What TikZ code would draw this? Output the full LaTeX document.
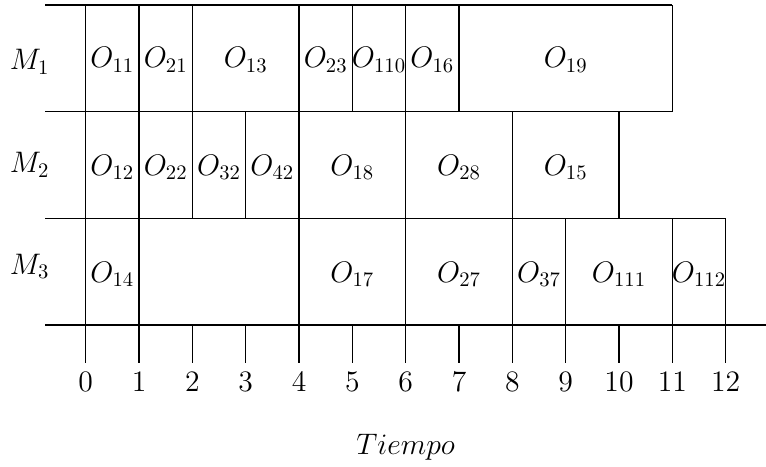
\documentclass[tikz,border=0pt]{standalone}
\begin{document}
\begin{tikzpicture}[x=1cm,y=1cm,line width=0.7pt,
  lbl/.style={font=\Large,inner sep=0pt,scale=1.1},
  grid/.style={draw=black}]
\useasboundingbox (-1.607,-2.644) rectangle (12.756,6.094);
% horizontal lines
\draw[grid] (-0.763,6) -- (11,6);
\draw[grid] (-0.763,4) -- (11,4);
\draw[grid] (-0.763,2) -- (12,2);
\draw[grid] (-0.763,0) -- (12.756,0);
% vertical separators
\foreach \t in {0,1,2,4,5,6,7,11} \draw[grid] (\t,4) -- (\t,6);
\foreach \t in {0,1,2,3,4,6,8,10} \draw[grid] (\t,2) -- (\t,4);
\foreach \t in {0,1,4,6,8,9,11,12} \draw[grid] (\t,0) -- (\t,2);
% ticks and numbers
\foreach \t in {0,...,12} {
  \draw[grid] (\t,0) -- (\t,-0.71);
  \node[lbl] (n\t) at (\t,-1.07) {$\t$};
}
% machine labels
\node[lbl] (m1) at (-1.05,4.93) {$M_1$};
\node[lbl] (m2) at (-1.05,3.0) {$M_2$};
\node[lbl] (m3) at (-1.05,1.1) {$M_3$};
% row 1
\node[lbl] (o11) at (0.5,4.97) {$O_{11}$};
\node[lbl] (o21) at (1.5,4.97) {$O_{21}$};
\node[lbl] (o13) at (3,4.97) {$O_{13}$};
\node[lbl] (o23) at (4.5,4.97) {$O_{23}$};
\node[lbl] (o110) at (5.5,4.97) {$O_{110}$};
\node[lbl] (o16) at (6.5,4.97) {$O_{16}$};
\node[lbl] (o19) at (9,4.97) {$O_{19}$};
% row 2
\node[lbl] (o12) at (0.5,2.96) {$O_{12}$};
\node[lbl] (o22) at (1.5,2.96) {$O_{22}$};
\node[lbl] (o32) at (2.5,2.96) {$O_{32}$};
\node[lbl] (o42) at (3.5,2.96) {$O_{42}$};
\node[lbl] (o18) at (5,2.96) {$O_{18}$};
\node[lbl] (o28) at (7,2.96) {$O_{28}$};
\node[lbl] (o15) at (9,2.96) {$O_{15}$};
% row 3
\node[lbl] (o14) at (0.5,0.95) {$O_{14}$};
\node[lbl] (o17) at (5,0.95) {$O_{17}$};
\node[lbl] (o27) at (7,0.95) {$O_{27}$};
\node[lbl] (o37) at (8.5,0.95) {$O_{37}$};
\node[lbl] (o111) at (10,0.95) {$O_{111}$};
\node[lbl] (o112) at (11.5,0.95) {$O_{112}$};
% axis label
\node[lbl] (tiempo) at (6,-2.3) {$Tiempo$};
\end{tikzpicture}
\end{document}
